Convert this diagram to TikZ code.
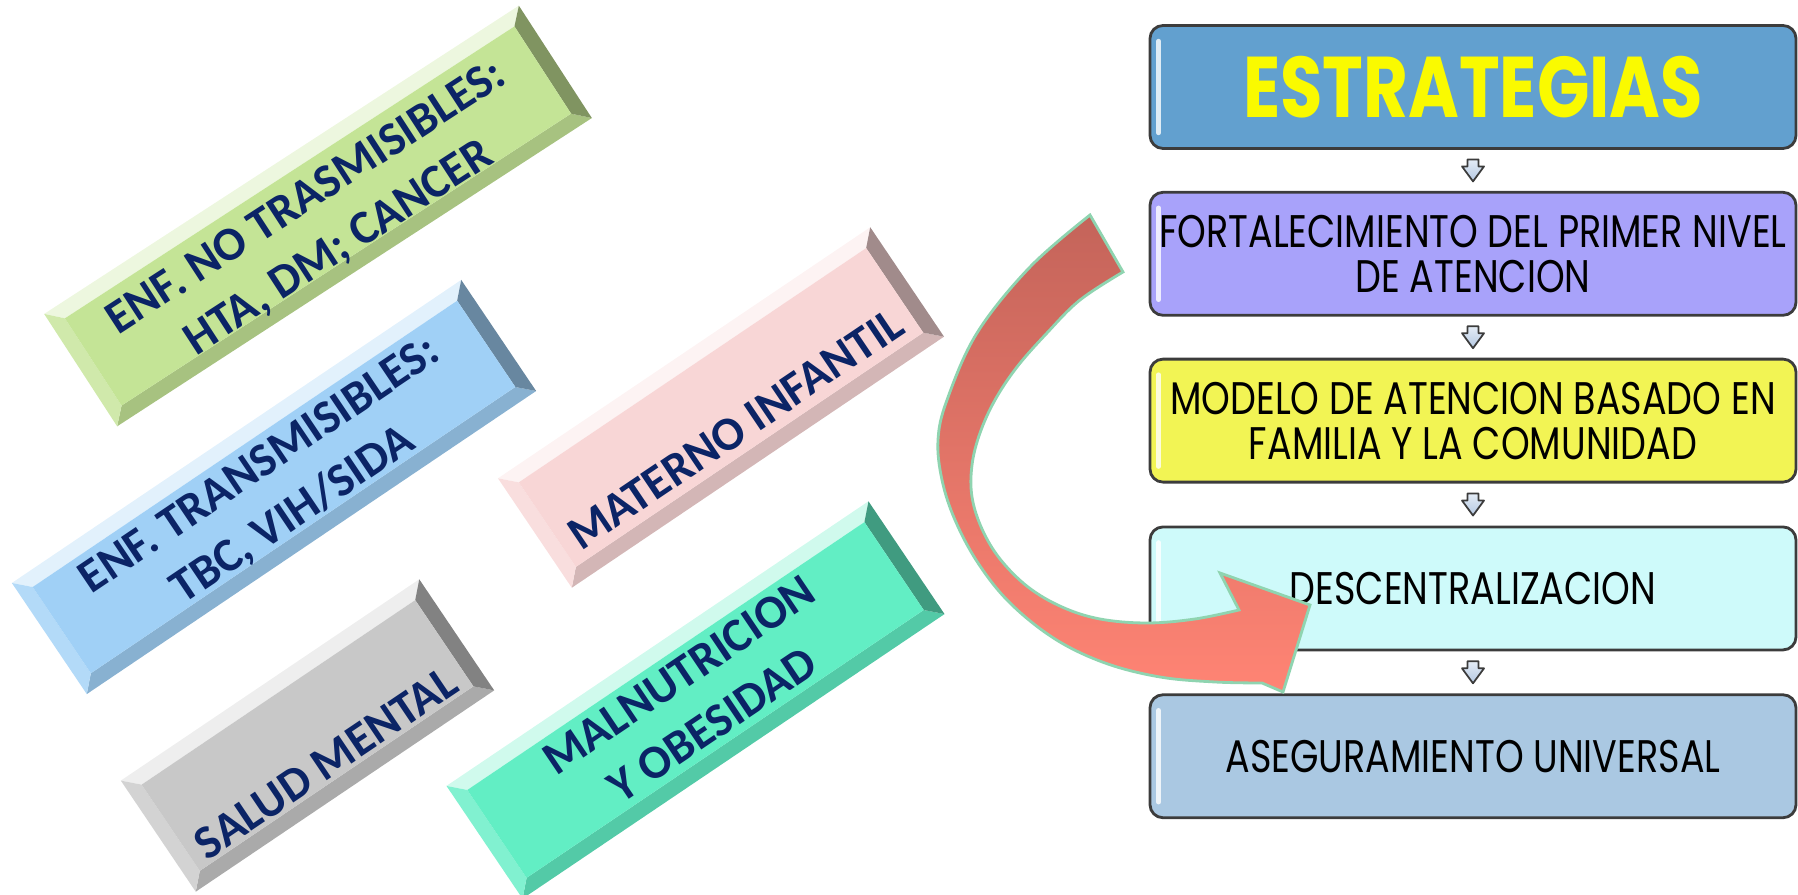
\documentclass[tikz,border=0pt]{standalone}
\usepackage{fontspec}
\newfontfamily\tagfont{Carlito}
\newfontfamily\stepfont{Poppins}[FakeStretch=0.80]
\newfontfamily\headfont{Poppins}[FakeStretch=0.80]
\usetikzlibrary{positioning,calc}
\definecolor{navy}{HTML}{0B2466}
\definecolor{ncdgreen}{HTML}{C4E496}
\definecolor{cdblue}{HTML}{A0D0F6}
\definecolor{matpink}{HTML}{F8D6D6}
\definecolor{mentgray}{HTML}{C8C8C8}
\definecolor{nutteal}{HTML}{62EEC4}
\definecolor{estblue}{HTML}{62A0CF}
\definecolor{fortlav}{HTML}{A8A2FA}
\definecolor{modyellow}{HTML}{F2F454}
\definecolor{desccyan}{HTML}{CEFAFA}
\definecolor{asegblue}{HTML}{AAC8E2}
\definecolor{boxline}{HTML}{3C3C3C}
\definecolor{headyellow}{HTML}{FAFA00}
\definecolor{arrowtop}{HTML}{E4ECF6}
\definecolor{arrowbot}{HTML}{B4C8E2}
\definecolor{curvedark}{HTML}{C4645A}
\definecolor{curvelight}{HTML}{FF8474}
\definecolor{curveedge}{HTML}{8FD4B0}
\begin{document}
\begin{tikzpicture}[
  tag/.style={font=\tagfont\bfseries\fontsize{13.5}{17}\selectfont, text=navy, align=center, transform shape, inner sep=0},
  stratbox/.style={draw=boxline, line width=0.8pt, rounded corners=0.13cm, minimum width=6.46cm, minimum height=1.23cm, inner sep=0, align=center, font=\stepfont\fontsize{13}{12.8}\selectfont},
  tinyarrow/.style={draw=boxline, line width=0.5pt, line join=round, top color=arrowtop, bottom color=arrowbot}
]
\useasboundingbox (0,0) rectangle (17.98,8.95);

% tilted boxes on the left
\foreach \nm/\x/\y/\ang/\w/\h/\col/\dy/\txt in {
  ncd/3.18/6.79/33/2.83/0.67/ncdgreen/-0.09/{ENF. NO TRASMISIBLES:\\HTA, DM; CANCER},
  cd/2.74/4.08/34/2.71/0.67/cdblue/-0.05/{ENF. TRANSMISIBLES:\\TBC, VIH/SIDA},
  mat/7.21/4.875/34/2.245/0.66/matpink/-0.26/{MATERNO INFANTIL},
  ment/3.075/1.595/34/1.80/0.67/mentgray/-0.33/{SALUD MENTAL},
  nut/6.955/1.95/34/2.545/0.68/nutteal/0/{MALNUTRICION\\Y OBESIDAD}}
{
  \begin{scope}[shift={(\x,\y)}, rotate=\ang]
    \fill[\col!30!white] (-\w,\h) -- (\w,\h) -- (\w-0.15,\h-0.15) -- (-\w+0.15,\h-0.15) -- cycle;
    \fill[\col!85!black] (-\w,-\h) -- (\w,-\h) -- (\w-0.15,-\h+0.15) -- (-\w+0.15,-\h+0.15) -- cycle;
    \fill[\col!80!white] (-\w,-\h) -- (-\w,\h) -- (-\w+0.15,\h-0.15) -- (-\w+0.15,-\h+0.15) -- cycle;
    \fill[\col!65!black] (\w,-\h) -- (\w,\h) -- (\w-0.15,\h-0.15) -- (\w-0.15,-\h+0.15) -- cycle;
    \fill[\col] (-\w+0.15,-\h+0.15) rectangle (\w-0.15,\h-0.15);
    \node[tag] (\nm) at (0,\dy) {\txt};
  \end{scope}
}

% strategies
\node[stratbox, fill=estblue, text=headyellow, font=\headfont\bfseries\fontsize{24.5}{28}\selectfont] (est) at (14.73,8.08) {ESTRATEGIAS};
\node[stratbox, fill=fortlav, below=0.41cm of est] (fort) {FORTALECIMIENTO DEL PRIMER NIVEL\\DE ATENCION};
\node[stratbox, fill=modyellow, below=0.41cm of fort] (mod) {MODELO DE ATENCION BASADO EN\\FAMILIA Y LA COMUNIDAD};
\node[stratbox, fill=desccyan, below=0.42cm of mod] (desc) {DESCENTRALIZACION};
\node[stratbox, fill=asegblue, below=0.42cm of desc] (aseg) {ASEGURAMIENTO UNIVERSAL};

\foreach \n in {est,fort,mod,desc,aseg}
  \draw[white, line width=1.3pt, line cap=round, opacity=0.8] ([shift={(0.1,-0.17)}]\n.north west) -- ([shift={(0.1,0.17)}]\n.south west);

\foreach \up/\dn in {est/fort,fort/mod,mod/desc,desc/aseg}
  \draw[tinyarrow, shift={($(\up.south)!0.5!(\dn.north)$)}] (-0.055,0.11) -- (0.055,0.11) -- (0.055,0.04) -- (0.11,0.04) -- (0,-0.11) -- (-0.11,0.04) -- (-0.055,0.04) -- cycle;

% curved arrow
\draw[curveedge, line width=0.8pt, top color=curvedark, bottom color=curvelight]
  (10.90,6.80) -- plot[smooth, tension=0.6] coordinates {(10.90,6.80) (10.30,6.28) (9.77,5.62) (9.47,4.95) (9.38,4.55) (9.42,4.15) (9.55,3.75) (9.78,3.32) (10.10,2.92) (10.55,2.56) (11.05,2.32) (11.60,2.18) (12.15,2.13) (12.62,2.12)}
  -- (12.83,2.03) -- (13.10,2.90) -- (12.20,3.22)
  -- plot[smooth, tension=0.6] coordinates {(12.39,2.85) (11.95,2.76) (11.47,2.72) (11.00,2.76) (10.62,2.88) (10.28,3.08) (10.00,3.36) (9.82,3.66) (9.72,3.98) (9.72,4.30) (9.80,4.62) (9.95,4.95) (10.17,5.28) (10.47,5.62) (10.80,5.95) (11.23,6.23)}
  -- cycle;
\end{tikzpicture}
\end{document}
